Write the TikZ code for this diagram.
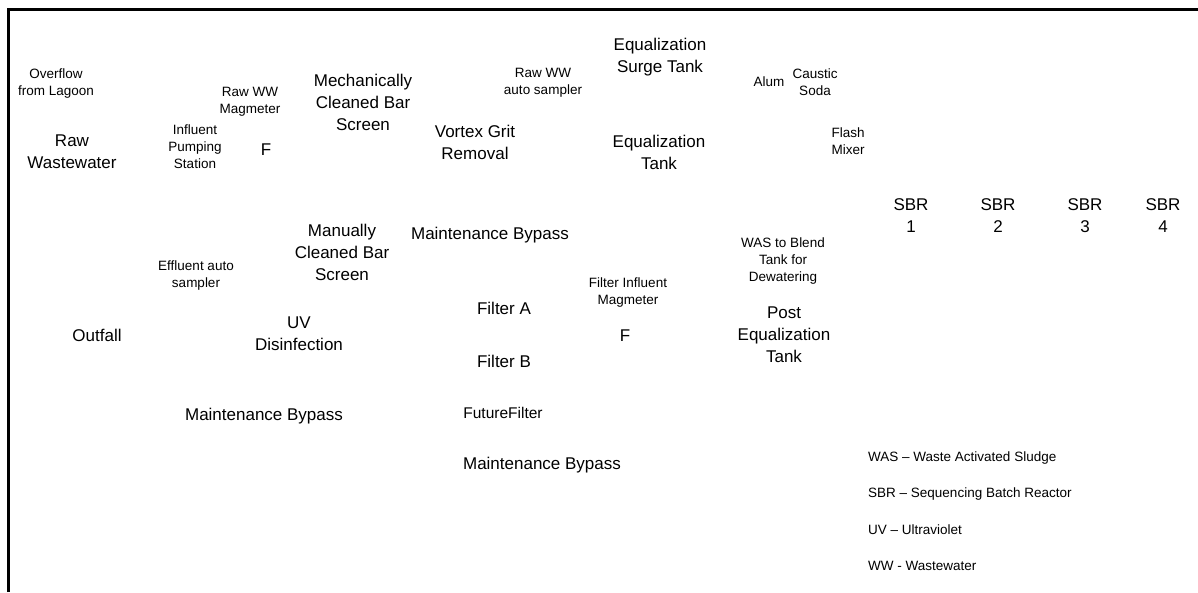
\documentclass[tikz,border=0pt]{standalone}
\usepackage{fontspec}
\setmainfont{Liberation Sans}
\usetikzlibrary{positioning}

\begin{document}
\begin{tikzpicture}[x=1pt,y=-1pt,
    biglabel/.style={align=center,inner sep=0pt,font=\fontsize{17}{22}\selectfont},
    midlabel/.style={align=center,inner sep=0pt,font=\fontsize{15.5}{19}\selectfont},
    smalllabel/.style={align=center,inner sep=0pt,font=\fontsize{13.5}{17}\selectfont},
    legend/.style={anchor=west,inner sep=0pt,font=\fontsize{13.5}{17}\selectfont}]
    \useasboundingbox (0,0) rectangle (1198,592);
    \draw[line width=3pt] (8,592) -- (8,9.5) -- (1198,9.5);

    % inflow side
    \node[smalllabel] (lagoon) at (56,84) {Overflow\\from Lagoon};
    \node[biglabel] (raw) at (72,152) {Raw\\Wastewater};
    \node[smalllabel] (ips) at (195,147) {Influent\\Pumping\\Station};
    \node[smalllabel] (rawmag) at (250,102) {Raw WW\\Magmeter};
    \node[biglabel] (f1) at (266,150) {F};
    \node[biglabel] (mbs) at (363,102) {Mechanically\\Cleaned Bar\\Screen};
    \node[smalllabel] (rawsampler) at (543,83) {Raw WW\\auto sampler};
    \node[biglabel] (surge) at (660,57) {Equalization\\Surge Tank};
    \node[biglabel] (grit) at (475,142) {Vortex Grit\\Removal};
    \node[biglabel] (eqtank) at (659,152) {Equalization\\Tank};
    \node[smalllabel] (alum) at (769,82) {Alum};
    \node[smalllabel] (caustic) at (815,82) {Caustic\\Soda};
    \node[smalllabel] (flash) at (848,141) {Flash\\Mixer};

    % reactors
    \node[biglabel] (sbr1) at (911,216) {SBR\\1};
    \node[biglabel] (sbr2) at (998,216) {SBR\\2};
    \node[biglabel] (sbr3) at (1085,216) {SBR\\3};
    \node[biglabel] (sbr4) at (1163,216) {SBR\\4};

    % outflow side
    \node[biglabel] (bypass1) at (490,235) {Maintenance Bypass};
    \node[biglabel] (manbs) at (342,252) {Manually\\Cleaned Bar\\Screen};
    \node[smalllabel] (was) at (783,261) {WAS to Blend\\Tank for\\Dewatering};
    \node[smalllabel] (effsampler) at (196,276) {Effluent auto\\sampler};
    \node[smalllabel] (filtmag) at (628,293) {Filter Influent\\Magmeter};
    \node[biglabel] (filtera) at (504,308) {Filter A};
    \node[biglabel] (f2) at (625,336) {F};
    \node[biglabel] (outfall) at (97,335) {Outfall};
    \node[biglabel] (uv) at (299,334) {UV\\Disinfection};
    \node[biglabel] (posteq) at (784,335) {Post\\Equalization\\Tank};
    \node[biglabel] (filterb) at (504,361) {Filter B};
    \node[biglabel] (bypass2) at (264,416) {Maintenance Bypass};
    \node[midlabel] (future) at (503,413) {FutureFilter};
    \node[biglabel] (bypass3) at (542,465) {Maintenance Bypass};

    % abbreviations
    \node[legend] (leg1) at (868,458) {WAS -- Waste Activated Sludge};
    \node[legend] (leg2) at (868,494) {SBR -- Sequencing Batch Reactor};
    \node[legend] (leg3) at (868,530) {UV -- Ultraviolet};
    \node[legend] (leg4) at (868,566) {WW - Wastewater};
\end{tikzpicture}
\end{document}
